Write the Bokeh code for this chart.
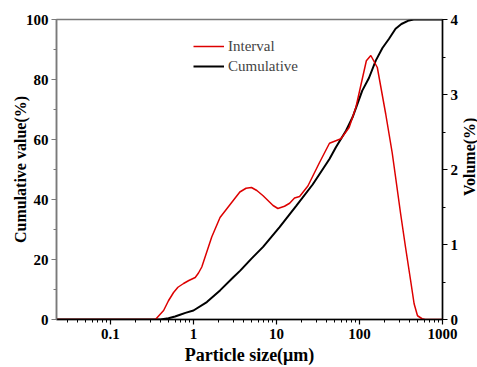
import math
from bokeh.plotting import figure
from bokeh.layouts import row
from bokeh.models import (Range1d, LinearAxis, FixedTicker, SingleIntervalTicker,
                          Legend, LegendItem, CustomJSTickFormatter, Label)
from bokeh.embed import file_html
from bokeh.resources import INLINE

# ---- data ----
size_interval = [0.0224, 0.1, 0.30, 0.348, 0.437, 0.50, 0.576, 0.65, 0.76, 0.88, 1.05, 1.15,
                 1.26, 1.66, 2.09, 2.75, 3.62, 4.3, 5.0, 5.8, 6.9, 9.1, 10.4, 12.5,
                 14.4, 16.5, 19.0, 23.9, 32.9, 43.5, 59.8, 75, 90.6, 121, 137, 164,
                 207, 248, 272, 313, 359, 413, 455, 500, 568, 620, 1000]
volume = [0, 0, 0, 0, 0.12, 0.25, 0.36, 0.43, 0.48, 0.52, 0.56, 0.62,
          0.70, 1.10, 1.36, 1.53, 1.70, 1.75, 1.76, 1.72, 1.65, 1.52, 1.48, 1.51,
          1.55, 1.62, 1.64, 1.78, 2.09, 2.35, 2.41, 2.56, 2.83, 3.45, 3.52, 3.36,
          2.74, 2.22, 1.90, 1.41, 0.96, 0.52, 0.21, 0.05, 0.01, 0, 0]

size_cum = [0.0224, 0.30, 0.40, 0.50, 0.60, 0.69, 0.80, 1.0, 1.45, 2.09, 3.0, 3.66,
            5.0, 6.9, 10.9, 17.3, 27.3, 43.5, 52, 69, 82.5, 108, 130, 157,
            189, 226, 272, 320, 395, 450, 1000]
cumulative = [0, 0, 0, 0.4, 1.0, 1.6, 2.2, 3.0, 5.8, 9.7, 14.0, 16.3,
              20.3, 24.2, 30.8, 37.9, 45.0, 53.5, 57.4, 63.0, 67.4, 76.3, 80.5, 86.3,
              90.5, 93.5, 96.9, 98.5, 99.7, 100, 100]

x_major = [0.1, 1, 10, 100, 1000]
x_minor = [m * 10.0 ** e for e in range(-2, 3) for m in range(2, 10) if m * 10.0 ** e > 0.0224]

FONT = "Liberation Serif"

p = figure(width=461, height=367, x_axis_type="log",
           x_range=Range1d(0.0224, 1000), y_range=Range1d(0, 100),
           output_backend="svg", toolbar_location=None,
           min_border_left=56, min_border_right=17, min_border_top=19, min_border_bottom=48)
p.extra_y_ranges = {"vol": Range1d(0, 4)}
p.grid.visible = False
p.outline_line_color = "#7a7a7a"
p.outline_line_width = 1.5
p.background_fill_color = "white"
p.border_fill_color = "white"

black = p.line(size_cum, cumulative, line_color="black", line_width=2)
red = p.line(size_interval, volume, line_color="#dd0000", line_width=1.5, y_range_name="vol")

right = LinearAxis(y_range_name="vol", ticker=SingleIntervalTicker(interval=1, num_minor_ticks=2))
p.add_layout(right, "right")

for ax in [p.xaxis[0], p.yaxis[0], right]:
    ax.major_tick_in = 0
    ax.major_tick_out = 5
    ax.minor_tick_in = 0
    ax.minor_tick_out = 3
    ax.axis_line_width = 1.5
    ax.major_tick_line_width = 1.2
    ax.minor_tick_line_width = 1
    ax.major_label_text_font = FONT
    ax.major_label_text_font_style = "bold"
    ax.major_label_text_font_size = "15px"
    ax.major_label_text_color = "black"
    ax.axis_label_text_font = FONT
    ax.axis_label_text_font_style = "bold"
    ax.axis_label_text_font_size = "16px"
    ax.axis_label_text_color = "black"
    ax.major_label_standoff = 3

xa = p.xaxis[0]
xa.ticker = FixedTicker(ticks=x_major, minor_ticks=x_minor)
xa.formatter = CustomJSTickFormatter(code="return tick.toString();")
xa.axis_label = "Particle size(μm)"
xa.axis_label_text_font_size = "18px"
xa.axis_label_standoff = 3
xa.major_label_standoff = 4
xa.axis_line_color = "black"

ya = p.yaxis[0]
ya.ticker = SingleIntervalTicker(interval=20, num_minor_ticks=2)
ya.axis_label = "Cumulative value(%)"
ya.axis_label_standoff = -6
ya.axis_line_color = "#7a7a7a"
ya.major_tick_line_color = "#7a7a7a"
ya.minor_tick_line_color = "#7a7a7a"

legend = Legend(items=[LegendItem(label="Interval", renderers=[red]),
                       LegendItem(label="Cumulative", renderers=[black])],
                location=(137, 243), padding=0, margin=0, spacing=0,
                glyph_width=31, glyph_height=20, label_height=20, label_standoff=4,
                border_line_color=None, background_fill_alpha=0,
                label_text_font=FONT, label_text_font_size="15px")
p.add_layout(legend)

# narrow strip on the right holding the right-hand axis title (reads bottom-to-top)
p2 = figure(width=16, height=367, x_range=Range1d(0, 1), y_range=Range1d(0, 367),
            output_backend="svg", toolbar_location=None, min_border=0,
            x_axis_location=None, y_axis_location=None)
p2.outline_line_color = None
p2.grid.visible = False
p2.background_fill_color = "white"
p2.border_fill_color = "white"
p2.add_layout(Label(x=0.5, y=367 - 168, text="Volume(%)", angle=math.pi / 2,
                    text_align="center", text_baseline="middle", text_font=FONT,
                    text_font_style="bold", text_font_size="16px", text_color="black"))

layout = row(p, p2, spacing=0)
open("out.html", "w").write(file_html(layout, INLINE))
